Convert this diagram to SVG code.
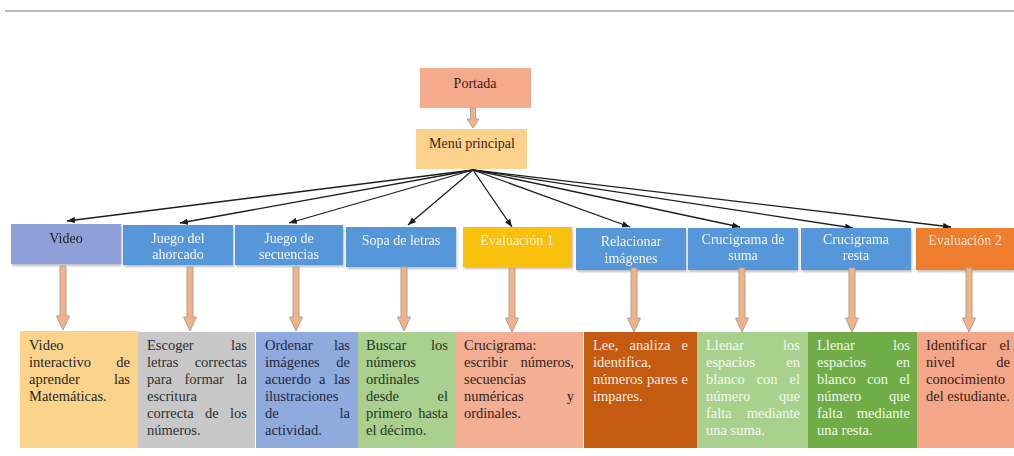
<svg xmlns="http://www.w3.org/2000/svg" width="1014" height="456" viewBox="0 0 1014 456">
  <style>
    text { font-family: "Liberation Serif", "Times New Roman", serif; font-size: 14px; }
    .c { text-anchor: middle; }
    .e { text-anchor: end; }
    .b text { font-size: 14.5px; }
    .dark { fill: #262626; }
    .light { fill: #f6f6f6; }
    .conn { stroke: #1e1e1e; stroke-width: 1.3; fill: none; marker-end: url(#ah); }
    .blk { fill: #f4b183; stroke: #a3a3a3; stroke-width: 1; }
  </style>
  <defs>
    <marker id="ah" viewBox="0 0 10 8" refX="10" refY="4" markerWidth="8" markerHeight="6.4" markerUnits="userSpaceOnUse" orient="auto">
      <path d="M0,0 L10,4 L0,8 z" fill="#1e1e1e"/>
    </marker>
    <filter id="sh" x="-5%" y="-10%" width="112%" height="130%">
      <feDropShadow dx="1" dy="2" stdDeviation="1.2" flood-color="#000" flood-opacity="0.25"/>
    </filter>
    <!-- downward block arrow, tip at origin -->
    <path id="down" d="M-3,-64 L3,-64 L3,-14 L6.5,-14 L0,0 L-6.5,-14 L-3,-14 z"/>
  </defs>

  <rect width="1014" height="456" fill="#ffffff"/>
  <line x1="5" y1="11" x2="1014" y2="11" stroke="#a0a0a0" stroke-width="1.5"/>

  <!-- header nodes -->
  <g id="portada">
    <rect x="420" y="68" width="111" height="40" fill="#f5aa8c"/>
    <text x="475" y="88" class="c" fill="#3a2418">Portada</text>
  </g>
  <g id="menu">
    <rect x="416" y="129" width="111" height="40" fill="#fcd28c"/>
    <text x="472" y="148" class="c" fill="#3a2418">Menú principal</text>
  </g>
  <path class="blk" d="M470.5,108 L475.5,108 L475.5,119 L479,119 L473,128 L467,119 L470.5,119 z"/>

  <!-- connectors from the main menu -->
  <g id="connectors">
    <line class="conn" x1="473" y1="170" x2="67" y2="221"/>
    <line class="conn" x1="473" y1="170" x2="180" y2="223"/>
    <line class="conn" x1="473" y1="170" x2="289" y2="223"/>
    <line class="conn" x1="473" y1="170" x2="408" y2="225"/>
    <line class="conn" x1="473" y1="170" x2="512" y2="227"/>
    <line class="conn" x1="473" y1="170" x2="630" y2="227"/>
    <line class="conn" x1="473" y1="170" x2="740" y2="227"/>
    <line class="conn" x1="473" y1="170" x2="853" y2="228"/>
    <line class="conn" x1="473" y1="170" x2="951" y2="227"/>
  </g>

  <!-- activity nodes -->
  <g id="video" filter="url(#sh)">
    <rect x="11" y="224" width="110" height="40" fill="#8fa0d8"/>
    <text x="66" y="243" class="c" fill="#1c1c1c">Video</text>
  </g>
  <g id="ahorcado" filter="url(#sh)">
    <rect x="123" y="225" width="110" height="40" fill="#5597d8"/>
    <text x="178" y="243" class="c light">Juego del</text>
    <text x="178" y="259" class="c light">ahorcado</text>
  </g>
  <g id="secuencias" filter="url(#sh)">
    <rect x="235" y="225" width="108" height="40" fill="#5597d8"/>
    <text x="289" y="243" class="c light">Juego de</text>
    <text x="289" y="259" class="c light">secuencias</text>
  </g>
  <g id="sopa" filter="url(#sh)">
    <rect x="346" y="227" width="110" height="40" fill="#5597d8"/>
    <text x="401" y="245" class="c light">Sopa de letras</text>
  </g>
  <g id="evaluacion1" filter="url(#sh)">
    <rect x="463" y="227" width="109" height="40" fill="#f9c00f"/>
    <text x="517" y="245" class="c" fill="#fdf2cf">Evaluación 1</text>
  </g>
  <g id="relacionar" filter="url(#sh)">
    <rect x="576" y="228" width="110" height="42" fill="#5597d8"/>
    <text x="631" y="246" class="c light">Relacionar</text>
    <text x="631" y="263" class="c light">imágenes</text>
  </g>
  <g id="suma" filter="url(#sh)">
    <rect x="688" y="228" width="110" height="42" fill="#5597d8"/>
    <text x="743" y="244" class="c light">Crucigrama de</text>
    <text x="743" y="260" class="c light">suma</text>
  </g>
  <g id="resta" filter="url(#sh)">
    <rect x="801" y="228" width="110" height="42" fill="#5597d8"/>
    <text x="856" y="244" class="c light">Crucigrama</text>
    <text x="856" y="260" class="c light">resta</text>
  </g>
  <g id="evaluacion2" filter="url(#sh)">
    <rect x="916" y="228" width="98" height="42" fill="#ef7d2e"/>
    <text x="965" y="245" class="c" fill="#fde6d6">Evaluación 2</text>
  </g>

  <!-- block arrows to the descriptions -->
  <g id="block-arrows" class="blk">
    <use href="#down" x="63" y="330"/>
    <use href="#down" x="190" y="331"/>
    <use href="#down" x="296" y="331"/>
    <use href="#down" x="404" y="331"/>
    <use href="#down" x="512" y="332"/>
    <use href="#down" x="634" y="332"/>
    <use href="#down" x="742" y="332"/>
    <use href="#down" x="852" y="332"/>
    <use href="#down" x="969" y="332"/>
  </g>

  <!-- description nodes -->
  <g id="d-video" class="b">
    <rect x="20" y="331" width="118" height="117" fill="#fcd38b"/>
    <g class="dark">
      <text x="29" y="350">Video</text>
      <text x="29" y="367">interactivo</text><text x="130" y="367" class="e">de</text>
      <text x="29" y="384">aprender</text><text x="130" y="384" class="e">las</text>
      <text x="29" y="401">Matemáticas.</text>
    </g>
  </g>
  <g id="d-ahorcado" class="b">
    <rect x="138" y="332" width="117" height="116" fill="#c8c8c8"/>
    <g fill="#2e2e2e">
      <text x="147" y="350">Escoger</text><text x="247" y="350" class="e">las</text>
      <text x="147" y="367">letras</text><text x="247" y="367" class="e">correctas</text>
      <text x="147" y="384">para</text><text x="184.5" y="384">formar</text><text x="247" y="384" class="e">la</text>
      <text x="147" y="401">escritura</text>
      <text x="147" y="418">correcta</text><text x="205" y="418">de</text><text x="247" y="418" class="e">los</text>
      <text x="147" y="435">números.</text>
    </g>
  </g>
  <g id="d-secuencias" class="b">
    <rect x="256" y="332" width="102" height="116" fill="#8faadc"/>
    <g fill="#1f2740">
      <text x="265" y="350">Ordenar</text><text x="350" y="350" class="e">las</text>
      <text x="265" y="367">imágenes</text><text x="350" y="367" class="e">de</text>
      <text x="265" y="384">acuerdo</text><text x="319" y="384">a</text><text x="350" y="384" class="e">las</text>
      <text x="265" y="401">ilustraciones</text>
      <text x="265" y="418">de</text><text x="350" y="418" class="e">la</text>
      <text x="265" y="435">actividad.</text>
    </g>
  </g>
  <g id="d-sopa" class="b">
    <rect x="358" y="332" width="98" height="116" fill="#a9d08e"/>
    <g fill="#26331c">
      <text x="366" y="350">Buscar</text><text x="448" y="350" class="e">los</text>
      <text x="366" y="367">números</text>
      <text x="366" y="384">ordinales</text>
      <text x="366" y="401">desde</text><text x="448" y="401" class="e">el</text>
      <text x="366" y="418">primero</text><text x="448" y="418" class="e">hasta</text>
      <text x="366" y="435">el décimo.</text>
    </g>
  </g>
  <g id="d-evaluacion1" class="b">
    <rect x="456" y="332" width="127" height="116" fill="#f4ae94"/>
    <g fill="#2e2420">
      <text x="464" y="350">Crucigrama:</text>
      <text x="464" y="367">escribir</text><text x="574" y="367" class="e">números,</text>
      <text x="464" y="384">secuencias</text>
      <text x="464" y="401">numéricas</text><text x="574" y="401" class="e">y</text>
      <text x="464" y="418">ordinales.</text>
    </g>
  </g>
  <g id="d-relacionar" class="b">
    <rect x="584" y="332" width="113" height="116" fill="#c55a11"/>
    <g fill="#f7ece4">
      <text x="593" y="350">Lee,</text><text x="629.5" y="350">analiza</text><text x="688" y="350" class="e">e</text>
      <text x="593" y="367">identifica,</text>
      <text x="593" y="384">números</text><text x="647" y="384">pares</text><text x="688" y="384" class="e">e</text>
      <text x="593" y="401">impares.</text>
    </g>
  </g>
  <g id="d-suma" class="b">
    <rect x="697" y="332" width="111" height="116" fill="#a9d18e"/>
    <g fill="#f4f8f0">
      <text x="706" y="350">Llenar</text><text x="800" y="350" class="e">los</text>
      <text x="706" y="367">espacios</text><text x="800" y="367" class="e">en</text>
      <text x="706" y="384">blanco</text><text x="756.5" y="384">con</text><text x="800" y="384" class="e">el</text>
      <text x="706" y="401">número</text><text x="800" y="401" class="e">que</text>
      <text x="706" y="418">falta</text><text x="800" y="418" class="e">mediante</text>
      <text x="706" y="435">una suma.</text>
    </g>
  </g>
  <g id="d-resta" class="b">
    <rect x="808" y="332" width="109" height="116" fill="#70ad47"/>
    <g fill="#f2f7ee">
      <text x="817" y="350">Llenar</text><text x="910" y="350" class="e">los</text>
      <text x="817" y="367">espacios</text><text x="910" y="367" class="e">en</text>
      <text x="817" y="384">blanco</text><text x="867" y="384">con</text><text x="910" y="384" class="e">el</text>
      <text x="817" y="401">número</text><text x="910" y="401" class="e">que</text>
      <text x="817" y="418">falta</text><text x="910" y="418" class="e">mediante</text>
      <text x="817" y="435">una resta.</text>
    </g>
  </g>
  <g id="d-evaluacion2" class="b">
    <rect x="917" y="332" width="97" height="116" fill="#f4a688"/>
    <g fill="#3a1c12">
      <text x="926" y="350">Identificar</text><text x="1010" y="350" class="e">el</text>
      <text x="926" y="367">nivel</text><text x="1010" y="367" class="e">de</text>
      <text x="926" y="384">conocimiento</text>
      <text x="926" y="401">del estudiante.</text>
    </g>
  </g>
</svg>
